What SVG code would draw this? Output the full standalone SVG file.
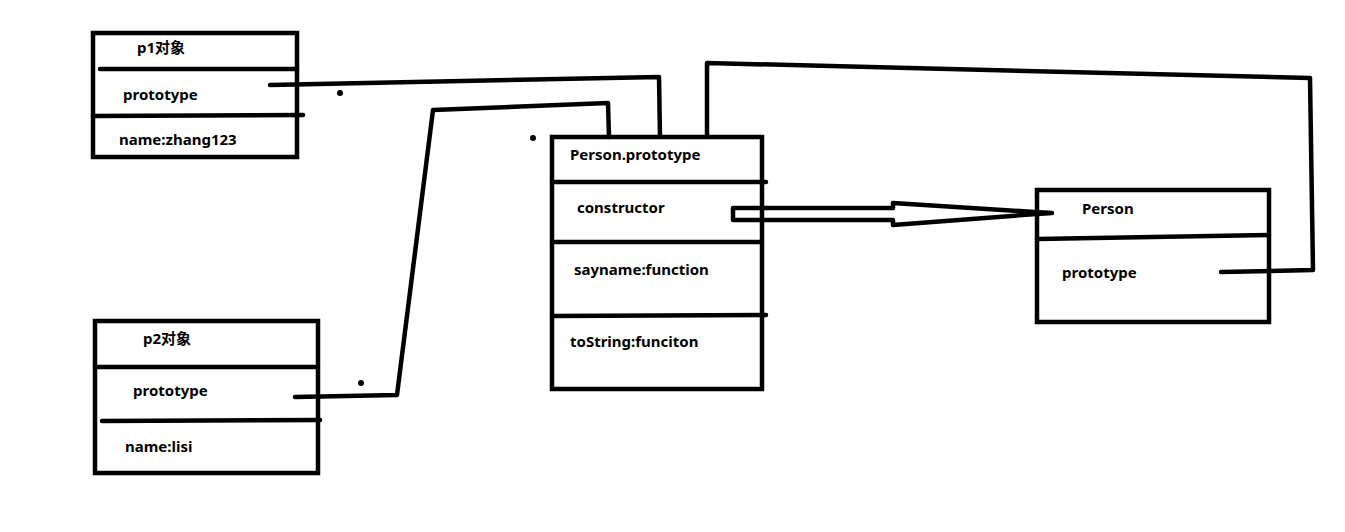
<svg xmlns="http://www.w3.org/2000/svg" width="1345" height="532" viewBox="0 0 1345 532">
<style>
.box{fill:#fff;stroke:#000;stroke-width:4.5}
.ln{fill:none;stroke:#000;stroke-width:4.5;stroke-linecap:round;stroke-linejoin:round}
.t{font-family:"Noto Sans","Noto Sans CJK SC",sans-serif;font-weight:bold;font-size:15px;fill:#000}
</style>
<rect width="1345" height="532" fill="#fff"/>
<g id="p1">
<rect class="box" x="93" y="33" width="204" height="124"/>
<path class="ln" d="M100,69 L297,69 M93,116 L303,115"/>
<text class="t" x="137" y="53">p1对象</text>
<text class="t" x="123" y="100">prototype</text>
<text class="t" x="119" y="145">name:zhang123</text>
</g>
<g id="p2">
<rect class="box" x="95" y="321" width="223" height="152"/>
<path class="ln" d="M95,367 L318,367 M102,421 L320,420"/>
<text class="t" x="143" y="344">p2对象</text>
<text class="t" x="133" y="396">prototype</text>
<text class="t" x="125" y="452">name:lisi</text>
</g>
<g id="personPrototype">
<rect class="box" x="552" y="137" width="210" height="252"/>
<path class="ln" d="M552,182 L766,182 M552,242 L762,242 M552,316 L766,315"/>
<text class="t" x="570" y="160">Person.prototype</text>
<text class="t" x="577" y="213">constructor</text>
<text class="t" x="574" y="275">sayname:function</text>
<text class="t" x="570" y="347">toString:funciton</text>
</g>
<g id="person">
<rect class="box" x="1037" y="190" width="232" height="132"/>
<path class="ln" d="M1037,239 L1269,235"/>
<text class="t" x="1082" y="214">Person</text>
<text class="t" x="1062" y="278">prototype</text>
</g>
<g id="connectors">
<path class="ln" d="M270,85 L659,77 L660,137"/>
<path class="ln" d="M295,397 L397,395 L433,110 L608,103 L609,137"/>
<path class="ln" d="M707,137 L707,63 L1310,78 L1313,270 L1221,272"/>
<path class="ln" d="M893,208 L733,208 L733,220 L893,220 L893,225 L1050,213 L893,203 Z"/>
<path class="ln" d="M1040,213 L1052,213"/>
<circle cx="340" cy="93" r="3"/>
<circle cx="533" cy="138" r="3"/>
<circle cx="361" cy="383" r="3"/>
</g>
</svg>
